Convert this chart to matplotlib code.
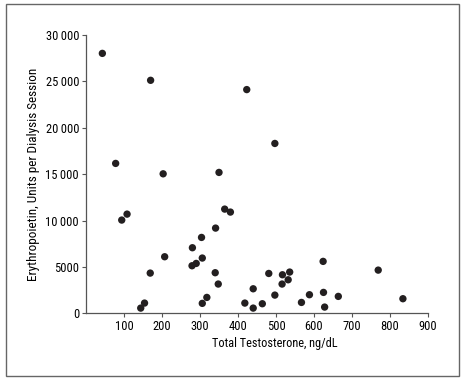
import matplotlib
matplotlib.use("Agg")
import matplotlib.pyplot as plt
from matplotlib.patches import Rectangle

# testosterone (ng/dL) vs erythropoietin dose (units per session)
testosterone = [43, 170, 423, 497, 78, 203, 350, 365, 380, 94, 108, 341,
                304, 280, 207, 306, 279, 290, 169, 340, 348, 318, 306, 154,
                144, 418, 440, 440, 464, 481, 497, 517, 516, 532, 536, 567,
                588, 624, 625, 628, 664, 769, 834]
epo = [28000, 25100, 24100, 18300, 16150, 15030, 15180, 11230, 10910, 10050,
       10690, 9185, 8180, 7070, 6100, 5960, 5130, 5380, 4340, 4380, 3160,
       1720, 1080, 1110, 570, 1110, 2650, 570, 1040, 4300, 1970, 4160, 3160,
       3620, 4450, 1180, 2010, 5600, 2260, 680, 1830, 4660, 1580]

xticks = [100, 200, 300, 400, 500, 600, 700, 800, 900]
yticks = [0, 5000, 10000, 15000, 20000, 25000, 30000]
ylabels = ["0", "5000", "10\u2009000", "15\u2009000", "20\u2009000", "25\u2009000", "30\u2009000"]

plt.rcParams['font.family'] = ['Roboto Condensed', 'DejaVu Sans']

fig = plt.figure(figsize=(4.68, 3.85), dpi=100)
ax = fig.add_axes([0.1838, 0.186, 0.7307, 0.7236])

ax.scatter(testosterone, epo, s=28, color="#231f20", edgecolors="none", zorder=3)

ax.set_xlim(0, 900)
ax.set_ylim(0, 30000)
ax.set_xticks(xticks)
ax.set_xticklabels([str(t) for t in xticks])
ax.set_yticks(yticks)
ax.set_yticklabels(ylabels)

for s in ["top", "right"]:
    ax.spines[s].set_visible(False)
for s in ["left", "bottom"]:
    ax.spines[s].set_color("#555555")
    ax.spines[s].set_linewidth(0.9)
ax.tick_params(direction="out", length=3, width=0.8, color="#555555",
               labelsize=9, pad=2)

ax.set_xlabel("Total Testosterone, ng/dL", fontsize=8.8, labelpad=2)
ax.xaxis.set_label_coords(0.553, -0.085)
ax.set_ylabel("Erythropoietin, Units per Dialysis Session", fontsize=9.5, labelpad=4)

# outer frame round the whole figure
fig.patches.append(Rectangle((5.5 / 468, 1 - 375.5 / 385), 453.5 / 468, 372 / 385,
                             transform=fig.transFigure, fill=False,
                             edgecolor="#666666", linewidth=1.0))

fig.savefig("out.png", dpi=100)
